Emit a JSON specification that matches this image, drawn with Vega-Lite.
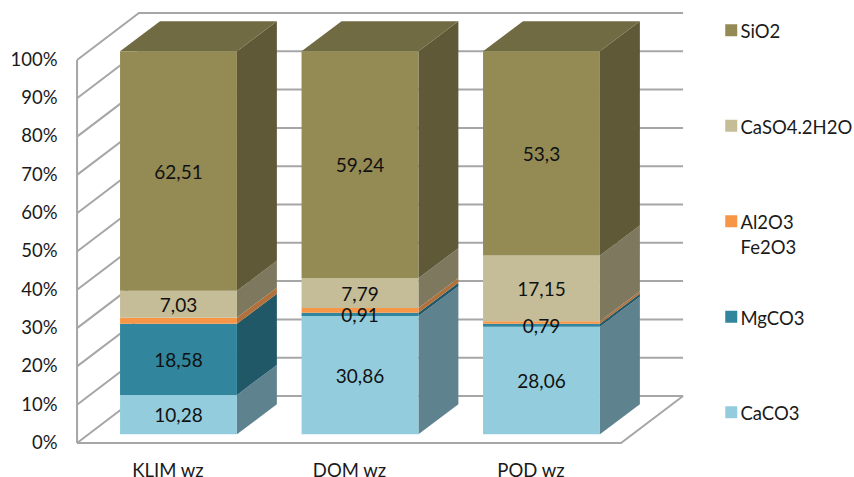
{
  "$schema": "https://vega.github.io/schema/vega-lite/v6.json",
  "width": 794,
  "height": 455,
  "padding": {"left": 60, "top": 0, "right": 0, "bottom": 22},
  "autosize": "none",
  "background": "white",
  "config": {
    "view": {"stroke": null},
    "font": "Lato",
    "text": {"font": "Lato"},
    "style": {"guide-label": {"dy": -7, "lineHeight": 25}}
  },
  "resolve": {"scale": {"color": "independent"}},
  "datasets": {
    "shares": [
      {"site": "KLIM wz", "component": "CaCO3", "value": 10.28},
      {"site": "KLIM wz", "component": "MgCO3", "value": 18.58},
      {"site": "KLIM wz", "component": "Al2O3 Fe2O3", "value": 1.6},
      {"site": "KLIM wz", "component": "CaSO4.2H2O", "value": 7.03},
      {"site": "KLIM wz", "component": "SiO2", "value": 62.51},
      {"site": "DOM wz", "component": "CaCO3", "value": 30.86},
      {"site": "DOM wz", "component": "MgCO3", "value": 0.91},
      {"site": "DOM wz", "component": "Al2O3 Fe2O3", "value": 1.2},
      {"site": "DOM wz", "component": "CaSO4.2H2O", "value": 7.79},
      {"site": "DOM wz", "component": "SiO2", "value": 59.24},
      {"site": "POD wz", "component": "CaCO3", "value": 28.06},
      {"site": "POD wz", "component": "MgCO3", "value": 0.79},
      {"site": "POD wz", "component": "Al2O3 Fe2O3", "value": 0.7},
      {"site": "POD wz", "component": "CaSO4.2H2O", "value": 17.15},
      {"site": "POD wz", "component": "SiO2", "value": 53.3}
    ],
    "ticks": [
      {"tick": 0}, {"tick": 10}, {"tick": 20}, {"tick": 30}, {"tick": 40}, {"tick": 50},
      {"tick": 60}, {"tick": 70}, {"tick": 80}, {"tick": 90}, {"tick": 100}
    ]
  },
  "layer": [
    {
      "description": "Floor outline and the gridlines that run along the side wall and back wall",
      "data": {"name": "ticks"},
      "transform": [
        {"calculate": "[0,1,2]", "as": "stop"},
        {"flatten": ["stop"]},
        {"calculate": "datum.tick === 0 ? [-0.559, 2.438, 2.78][datum.stop] : [-0.559, -0.218, 2.78][datum.stop]", "as": "gx"},
        {"calculate": "datum.tick === 0 ? [-2.27, -2.27, 10][datum.stop] : datum.tick + [-2.27, 10, 10][datum.stop]", "as": "gy"}
      ],
      "mark": {"type": "line", "color": "#a6a6a6", "strokeWidth": 2},
      "encoding": {
        "x": {"field": "gx", "type": "quantitative"},
        "y": {"field": "gy", "type": "quantitative"},
        "detail": {"field": "tick"},
        "order": {"field": "stop"}
      }
    },
    {
      "description": "Back edge of the floor",
      "data": {"name": "ticks"},
      "transform": [
        {"filter": "datum.tick === 0"},
        {"calculate": "[0,1,2]", "as": "stop"},
        {"flatten": ["stop"]},
        {"calculate": "[-0.559, -0.218, 2.78][datum.stop]", "as": "gx"},
        {"calculate": "[-2.27, 10, 10][datum.stop]", "as": "gy"}
      ],
      "mark": {"type": "line", "color": "#a6a6a6", "strokeWidth": 2},
      "encoding": {
        "x": {"field": "gx", "type": "quantitative"},
        "y": {"field": "gy", "type": "quantitative"},
        "order": {"field": "stop"}
      }
    },
    {
      "description": "Vertical wall edge",
      "data": {"name": "ticks"},
      "transform": [
        {"filter": "datum.tick === 0 || datum.tick === 100"},
        {"calculate": "-0.559", "as": "gx"},
        {"calculate": "datum.tick - 2.27", "as": "gy"}
      ],
      "mark": {"type": "line", "color": "#a6a6a6", "strokeWidth": 2},
      "encoding": {
        "x": {"field": "gx", "type": "quantitative"},
        "y": {"field": "gy", "type": "quantitative"}
      }
    },
    {
      "description": "Right-hand faces of the stacks",
      "data": {"name": "shares"},
      "transform": [
        {"calculate": "indexof(['CaCO3','MgCO3','Al2O3 Fe2O3','CaSO4.2H2O','SiO2'], datum.component)", "as": "rank"},
        {"calculate": "indexof(['KLIM wz','DOM wz','POD wz'], datum.site)", "as": "pos"},
        {"stack": "value", "groupby": ["site"], "sort": [{"field": "rank", "order": "ascending"}], "as": ["v0", "v1"]},
        {"calculate": "[0,1]", "as": "t"},
        {"flatten": ["t"]},
        {"calculate": "datum.pos + 0.322 + datum.t * 0.22", "as": "sx"},
        {"calculate": "datum.v0 + datum.t * 7.83", "as": "sy0"},
        {"calculate": "datum.v1 + datum.t * 7.83", "as": "sy1"}
      ],
      "mark": {"type": "area", "opacity": 1},
      "encoding": {
        "x": {"field": "sx", "type": "quantitative"},
        "y": {"field": "sy0", "type": "quantitative"},
        "y2": {"field": "sy1"},
        "detail": {"field": "site"},
        "color": {
          "field": "component",
          "type": "nominal",
          "legend": null,
          "scale": {
            "domain": ["SiO2", "CaSO4.2H2O", "Al2O3 Fe2O3", "MgCO3", "CaCO3"],
            "range": ["#5f5937", "#7e785e", "#b2703a", "#215868", "#5e828e"]
          }
        }
      }
    },
    {
      "description": "Top faces of the stacks",
      "data": {"name": "shares"},
      "transform": [
        {"filter": "datum.component === 'SiO2'"},
        {"calculate": "indexof(['KLIM wz','DOM wz','POD wz'], datum.site)", "as": "pos"},
        {"calculate": "[0,1]", "as": "t"},
        {"flatten": ["t"]},
        {"calculate": "datum.pos - 0.322 + datum.t * 0.22", "as": "tx0"},
        {"calculate": "datum.pos + 0.322 + datum.t * 0.22", "as": "tx1"},
        {"calculate": "100 + datum.t * 7.83", "as": "ty"}
      ],
      "mark": {"type": "area", "orient": "horizontal", "color": "#716b43"},
      "encoding": {
        "x": {"field": "tx0", "type": "quantitative"},
        "x2": {"field": "tx1"},
        "y": {"field": "ty", "type": "quantitative"},
        "detail": {"field": "site"}
      }
    },
    {
      "description": "Front faces of the stacks",
      "data": {"name": "shares"},
      "transform": [
        {"calculate": "indexof(['CaCO3','MgCO3','Al2O3 Fe2O3','CaSO4.2H2O','SiO2'], datum.component)", "as": "rank"},
        {"calculate": "indexof(['KLIM wz','DOM wz','POD wz'], datum.site)", "as": "pos"},
        {"stack": "value", "groupby": ["site"], "sort": [{"field": "rank", "order": "ascending"}], "as": ["v0", "v1"]},
        {"calculate": "datum.pos - 0.322", "as": "fx0"},
        {"calculate": "datum.pos + 0.322", "as": "fx1"}
      ],
      "mark": {"type": "rect"},
      "encoding": {
        "x": {
          "field": "fx0",
          "type": "quantitative",
          "scale": {"domain": [-0.6529, 3.7218], "nice": false, "zero": false},
          "axis": {
            "values": [0, 1, 2],
            "title": null,
            "domain": false,
            "ticks": false,
            "grid": false,
            "labelExpr": "['KLIM wz','DOM wz','POD wz'][datum.value]",
            "labelFont": "Lato",
            "labelFontSize": 18.5,
            "labelColor": "#1a1a1a",
            "labelPadding": 13,
            "labelOffset": -11,
            "labelFlush": false,
            "labelOverlap": false,
            "labelBound": false
          }
        },
        "x2": {"field": "fx1"},
        "y": {
          "field": "v0",
          "type": "quantitative",
          "scale": {"domain": [-5.405, 113.4], "nice": false, "zero": false},
          "axis": {
            "values": [0, 10, 20, 30, 40, 50, 60, 70, 80, 90, 100],
            "title": null,
            "domain": false,
            "ticks": false,
            "grid": false,
            "labelExpr": "datum.value + '%'",
            "labelFont": "Lato",
            "labelFontSize": 18.5,
            "labelColor": "#1a1a1a",
            "labelPadding": 3,
            "labelOffset": 15
          }
        },
        "y2": {"field": "v1"},
        "color": {
          "field": "component",
          "type": "nominal",
          "scale": {
            "domain": ["SiO2", "CaSO4.2H2O", "Al2O3 Fe2O3", "MgCO3", "CaCO3"],
            "range": ["#948a54", "#c4bd97", "#f79646", "#31859c", "#93cddd"]
          },
          "legend": {
            "orient": "none",
            "legendX": 662,
            "legendY": 21,
            "title": null,
            "symbolType": "square",
            "symbolSize": 144,
            "symbolStrokeWidth": 0,
            "labelFont": "Lato",
            "labelFontSize": 18.5,
            "labelColor": "#1a1a1a",
            "labelOffset": 0,
            "labelLimit": 200,
            "labelBaseline": "top",
            "gridAlign": "all",
            "rowPadding": 49.5,
            "labelExpr": "datum.label === 'Al2O3 Fe2O3' ? ['Al2O3', 'Fe2O3'] : datum.label"
          }
        }
      }
    },
    {
      "description": "Value labels on the larger segments",
      "data": {"name": "shares"},
      "transform": [
        {"calculate": "indexof(['CaCO3','MgCO3','Al2O3 Fe2O3','CaSO4.2H2O','SiO2'], datum.component)", "as": "rank"},
        {"calculate": "indexof(['KLIM wz','DOM wz','POD wz'], datum.site)", "as": "pos"},
        {"stack": "value", "groupby": ["site"], "sort": [{"field": "rank", "order": "ascending"}], "as": ["v0", "v1"]},
        {"filter": "datum.component !== 'Al2O3 Fe2O3'"},
        {"calculate": "(datum.v0 + datum.v1) / 2", "as": "mid"},
        {"calculate": "replace(toString(datum.value), '.', ',')", "as": "shown"}
      ],
      "mark": {"type": "text", "font": "Lato", "fontSize": 19, "color": "#111111", "dy": 1.5},
      "encoding": {
        "x": {"field": "pos", "type": "quantitative"},
        "y": {"field": "mid", "type": "quantitative"},
        "text": {"field": "shown", "type": "nominal"}
      }
    }
  ]
}
